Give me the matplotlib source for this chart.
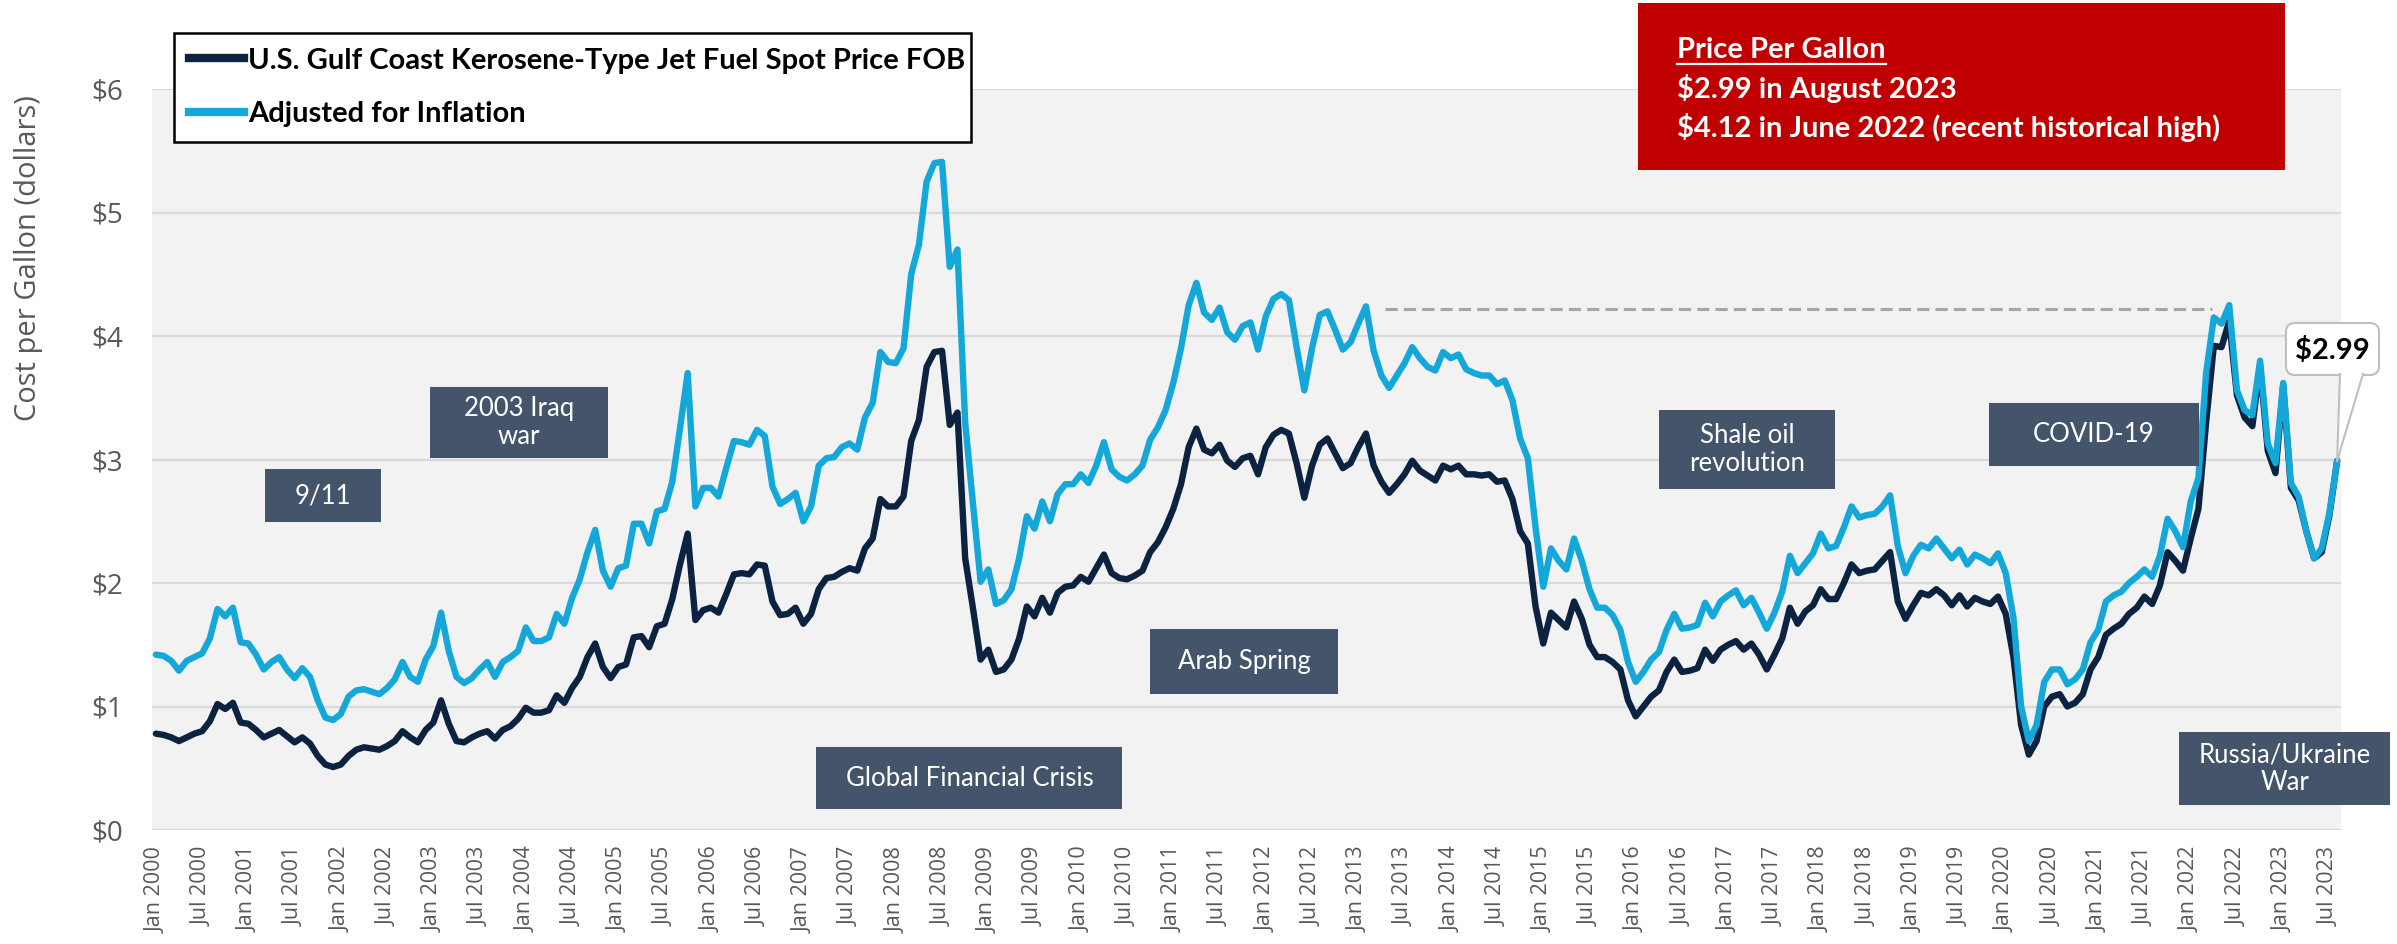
import numpy as np
import matplotlib
matplotlib.use("Agg")
import matplotlib.pyplot as plt
from matplotlib import transforms as mtransforms
from matplotlib.patches import Rectangle, FancyBboxPatch, Polygon
from matplotlib.lines import Line2D

W, H, DPI = 2397, 944, 100

# --- monthly spot price, Jan 2000 .. Aug 2023 (dollars per gallon) ---
nominal_by_year = [
    [0.78, 0.77, 0.75, 0.72, 0.75, 0.78, 0.80, 0.88, 1.02, 0.98, 1.03, 0.87],  # 2000
    [0.86, 0.81, 0.75, 0.78, 0.81, 0.76, 0.71, 0.75, 0.70, 0.60, 0.53, 0.51],  # 2001
    [0.53, 0.60, 0.65, 0.67, 0.66, 0.65, 0.68, 0.72, 0.80, 0.75, 0.71, 0.81],  # 2002
    [0.87, 1.05, 0.86, 0.72, 0.71, 0.75, 0.78, 0.80, 0.74, 0.81, 0.84, 0.90],  # 2003
    [0.99, 0.95, 0.95, 0.97, 1.09, 1.03, 1.15, 1.24, 1.40, 1.51, 1.32, 1.23],  # 2004
    [1.32, 1.34, 1.56, 1.57, 1.48, 1.65, 1.67, 1.87, 2.15, 2.40, 1.70, 1.78],  # 2005
    [1.80, 1.76, 1.91, 2.07, 2.08, 2.07, 2.15, 2.14, 1.85, 1.74, 1.75, 1.80],  # 2006
    [1.67, 1.75, 1.95, 2.04, 2.05, 2.09, 2.12, 2.10, 2.28, 2.36, 2.68, 2.62],  # 2007
    [2.62, 2.70, 3.15, 3.32, 3.75, 3.87, 3.88, 3.28, 3.38, 2.20, 1.80, 1.38],  # 2008
    [1.46, 1.28, 1.30, 1.38, 1.55, 1.81, 1.73, 1.88, 1.76, 1.92, 1.97, 1.98],  # 2009
    [2.05, 2.01, 2.12, 2.23, 2.08, 2.04, 2.03, 2.06, 2.10, 2.25, 2.33, 2.45],  # 2010
    [2.60, 2.80, 3.10, 3.25, 3.08, 3.05, 3.12, 2.99, 2.94, 3.01, 3.03, 2.88],  # 2011
    [3.10, 3.20, 3.24, 3.21, 2.97, 2.69, 2.95, 3.12, 3.17, 3.05, 2.93, 2.97],  # 2012
    [3.10, 3.21, 2.95, 2.82, 2.73, 2.80, 2.88, 2.99, 2.91, 2.87, 2.83, 2.95],  # 2013
    [2.92, 2.95, 2.88, 2.88, 2.87, 2.88, 2.82, 2.83, 2.68, 2.42, 2.32, 1.81],  # 2014
    [1.51, 1.76, 1.70, 1.64, 1.85, 1.71, 1.50, 1.40, 1.40, 1.36, 1.30, 1.05],  # 2015
    [0.92, 1.00, 1.08, 1.13, 1.28, 1.38, 1.28, 1.29, 1.31, 1.46, 1.37, 1.46],  # 2016
    [1.50, 1.53, 1.46, 1.51, 1.42, 1.30, 1.42, 1.55, 1.80, 1.67, 1.77, 1.82],  # 2017
    [1.95, 1.87, 1.87, 2.00, 2.15, 2.08, 2.10, 2.11, 2.18, 2.25, 1.85, 1.71],  # 2018
    [1.82, 1.92, 1.90, 1.95, 1.90, 1.82, 1.90, 1.81, 1.88, 1.85, 1.83, 1.89],  # 2019
    [1.75, 1.40, 0.85, 0.61, 0.72, 1.00, 1.08, 1.10, 1.00, 1.03, 1.10, 1.30],  # 2020
    [1.40, 1.58, 1.63, 1.67, 1.75, 1.80, 1.89, 1.83, 1.98, 2.25, 2.18, 2.10],  # 2021
    [2.36, 2.60, 3.30, 3.92, 3.91, 4.12, 3.52, 3.34, 3.27, 3.76, 3.07, 2.89],  # 2022
    [3.60, 2.77, 2.67, 2.42, 2.20, 2.25, 2.55, 2.99],                          # 2023
]

real_by_year = [
    [1.42, 1.41, 1.37, 1.29, 1.37, 1.40, 1.43, 1.55, 1.79, 1.73, 1.80, 1.52],
    [1.51, 1.42, 1.30, 1.36, 1.40, 1.30, 1.23, 1.31, 1.24, 1.05, 0.91, 0.89],
    [0.94, 1.08, 1.13, 1.14, 1.12, 1.10, 1.15, 1.22, 1.36, 1.24, 1.20, 1.38],
    [1.49, 1.76, 1.45, 1.24, 1.19, 1.23, 1.30, 1.36, 1.24, 1.36, 1.40, 1.45],
    [1.64, 1.53, 1.53, 1.56, 1.75, 1.67, 1.88, 2.03, 2.25, 2.43, 2.10, 1.97],
    [2.12, 2.14, 2.48, 2.48, 2.32, 2.58, 2.60, 2.82, 3.25, 3.70, 2.62, 2.77],
    [2.77, 2.70, 2.93, 3.15, 3.14, 3.12, 3.24, 3.19, 2.78, 2.64, 2.68, 2.73],
    [2.50, 2.62, 2.95, 3.01, 3.02, 3.10, 3.13, 3.08, 3.34, 3.46, 3.87, 3.79],
    [3.78, 3.90, 4.50, 4.74, 5.25, 5.40, 5.41, 4.56, 4.70, 3.30, 2.65, 2.01],
    [2.11, 1.83, 1.86, 1.95, 2.20, 2.54, 2.44, 2.66, 2.50, 2.72, 2.80, 2.80],
    [2.88, 2.81, 2.95, 3.14, 2.92, 2.86, 2.83, 2.88, 2.95, 3.16, 3.26, 3.40],
    [3.62, 3.90, 4.25, 4.43, 4.19, 4.13, 4.23, 4.03, 3.97, 4.08, 4.11, 3.89],
    [4.16, 4.30, 4.34, 4.29, 3.91, 3.56, 3.90, 4.17, 4.20, 4.05, 3.89, 3.95],
    [4.10, 4.24, 3.88, 3.68, 3.58, 3.68, 3.78, 3.91, 3.82, 3.75, 3.72, 3.87],
    [3.82, 3.85, 3.73, 3.70, 3.68, 3.68, 3.61, 3.64, 3.48, 3.17, 3.01, 2.45],
    [1.97, 2.28, 2.18, 2.11, 2.36, 2.18, 1.95, 1.80, 1.80, 1.74, 1.62, 1.36],
    [1.20, 1.28, 1.38, 1.44, 1.62, 1.75, 1.63, 1.64, 1.66, 1.84, 1.73, 1.85],
    [1.90, 1.94, 1.82, 1.88, 1.76, 1.63, 1.76, 1.93, 2.22, 2.08, 2.16, 2.24],
    [2.40, 2.28, 2.30, 2.45, 2.62, 2.53, 2.55, 2.56, 2.62, 2.71, 2.30, 2.08],
    [2.22, 2.31, 2.28, 2.36, 2.28, 2.20, 2.27, 2.15, 2.23, 2.20, 2.16, 2.24],
    [2.08, 1.72, 1.00, 0.72, 0.85, 1.20, 1.30, 1.30, 1.18, 1.22, 1.30, 1.52],
    [1.62, 1.85, 1.90, 1.93, 2.00, 2.05, 2.11, 2.05, 2.22, 2.52, 2.42, 2.29],
    [2.66, 2.85, 3.70, 4.15, 4.10, 4.25, 3.56, 3.40, 3.36, 3.80, 3.13, 2.97],
    [3.62, 2.81, 2.70, 2.42, 2.20, 2.28, 2.57, 2.99],
]

nominal = np.concatenate(nominal_by_year)
real = np.concatenate(real_by_year)
months = np.arange(len(nominal))

tick_labels = [f"{m} {y}" for y in range(2000, 2024) for m in ("Jan", "Jul")]
y_ticks = [0, 1, 2, 3, 4, 5, 6]

series_labels = ["U.S. Gulf Coast Kerosene-Type Jet Fuel Spot Price FOB",
                 "Adjusted for Inflation"]

# event boxes: label, x from/to (month index), y from/to (dollars)
events = [
    ("9/11", 14.2, 29.2, 2.49, 2.92),
    ("2003 Iraq\nwar", 35.6, 58.6, 3.01, 3.59),
    ("Global Financial Crisis", 85.7, 125.4, 0.17, 0.67),
    ("Arab Spring", 129.0, 153.4, 1.10, 1.63),
    ("Shale oil\nrevolution", 195.0, 217.9, 2.76, 3.40),
    ("COVID-19", 237.8, 265.1, 2.95, 3.46),
    ("Russia/Ukraine\nWar", 262.5, 289.9, 0.20, 0.79),
]

ref_level = 4.22          # dashed reference at the 2013 level
ref_span = (159.5, 266.8)

DARK = "#0B2240"
LIGHT = "#14A8DA"
SLATE = "#44546A"
GREY_TXT = "#595959"
CAL = "Lato"
SEG = "Open Sans"

fig = plt.figure(figsize=(W / DPI, H / DPI), dpi=DPI)
px = mtransforms.Affine2D().scale(1 / W, -1 / H).translate(0, 1) + fig.transFigure

ax = fig.add_axes([152 / W, 1 - 830 / H, (2341 - 152) / W, (830 - 89) / H])
ax.set_facecolor("#F2F2F2")
ax.set_xlim(-0.5, len(nominal) - 0.5)
ax.set_ylim(0, 6)
for s in ax.spines.values():
    s.set_visible(False)
ax.grid(axis="y", color="#D9D9D9", lw=1.6)
ax.set_axisbelow(True)

ax.set_yticks(y_ticks)
ax.set_yticklabels([f"${v}" for v in y_ticks], family=SEG, fontsize=20, color=GREY_TXT)
ax.set_xticks(months[::6])
ax.set_xticklabels(tick_labels, rotation=90, family=SEG, fontsize=15.5, color=GREY_TXT)
ax.tick_params(axis="y", length=0, pad=21)
ax.tick_params(axis="x", length=0, pad=12)

fig.text(29 / W, 1 - 258 / H, "Cost per Gallon (dollars)", rotation=90, ha="center",
         va="center", family=SEG, fontsize=21, color=GREY_TXT)

ax.plot(ref_span, [ref_level, ref_level], color="#A5A5AD", lw=2.2, dashes=(4, 2), zorder=2)
ax.plot(months, nominal, color=DARK, lw=4.6, solid_joinstyle="round",
        solid_capstyle="round", zorder=3)
ax.plot(months, real, color=LIGHT, lw=4.6, solid_joinstyle="round",
        solid_capstyle="round", zorder=4)

for label, x0, x1, y0, y1 in events:
    ax.add_patch(Rectangle((x0, y0), x1 - x0, y1 - y0, facecolor=SLATE,
                           edgecolor="none", zorder=5, clip_on=False))
    ax.text((x0 + x1) / 2, (y0 + y1) / 2, label, ha="center", va="center",
            color="white", family=CAL, fontsize=18.5, linespacing=1.15, zorder=6)

# legend box partly above the plot area
handles = [Line2D([], [], color=DARK, lw=6), Line2D([], [], color=LIGHT, lw=6)]
leg = fig.legend(handles, series_labels, loc="upper left",
                 bbox_to_anchor=(174 / W, 1 - 141 / H, 797 / W, 108 / H),
                 bbox_transform=fig.transFigure, mode="expand", borderaxespad=0,
                 prop=dict(family=CAL, weight="bold", size=21), frameon=True,
                 fancybox=False, edgecolor="black", framealpha=1,
                 borderpad=0.5, labelspacing=0.95, handlelength=1.9,
                 handletextpad=0.15)
leg.get_frame().set_linewidth(1.8)

# red summary box
fig.add_artist(Rectangle((1638, 3), 647, 167, transform=px, facecolor="#C00000",
                         edgecolor="none"))
box_lines = ["Price Per Gallon", "$2.99 in August 2023",
             "$4.12 in June 2022 (recent historical high)"]
box_texts = []
for i, line in enumerate(box_lines):
    box_texts.append(fig.text(1677, 50 + 38.5 * i, line, transform=px, ha="left",
                              va="center", color="white", family=CAL,
                              weight="bold", fontsize=21))

# callout for the latest value
fig.add_artist(FancyBboxPatch((2286, 323), 93, 52, boxstyle="round,pad=0,rounding_size=9",
                              transform=px, facecolor="white", edgecolor="#BFBFBF",
                              lw=1.5, zorder=7))
fig.text(2332.5, 350, "$2.99", transform=px, ha="center", va="center",
         family=CAL, weight="bold", fontsize=21, color="black", zorder=9)

fig.canvas.draw()
ident = mtransforms.IdentityTransform()
tip = ax.transData.transform((months[-1], real[-1]))
bl = px.transform((2340, 374))
br = px.transform((2363, 374))
fig.add_artist(Polygon([bl, tip, br], closed=True, transform=ident, facecolor="white",
                       edgecolor="none", zorder=8))
for p in (bl, br):
    fig.add_artist(Line2D([p[0], tip[0]], [p[1], tip[1]], transform=ident,
                          color="#BFBFBF", lw=1.5, zorder=8))

bb = box_texts[0].get_window_extent()
uy = px.transform((0, 64))[1]
fig.add_artist(Line2D([bb.x0, bb.x1], [uy, uy], transform=ident, color="white", lw=1.6))

fig.savefig("out.png", dpi=DPI)
